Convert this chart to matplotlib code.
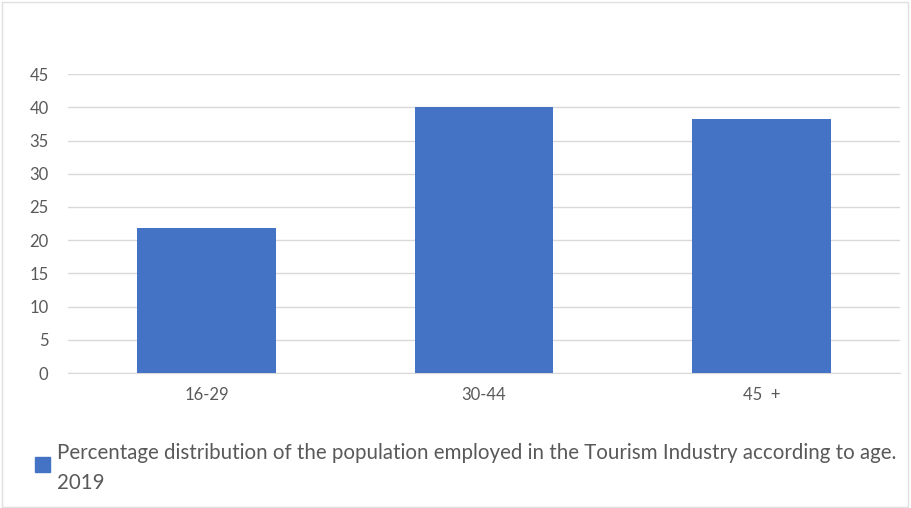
import matplotlib.pyplot as plt
from matplotlib.patches import Rectangle

plt.rcParams['font.family'] = ['Lato', 'DejaVu Sans']

ages = ['16-29', '30-44', '45  +']
values = [21.9, 40.0, 38.2]
yticks = [0, 5, 10, 15, 20, 25, 30, 35, 40, 45]
label = 'Percentage distribution of the population employed in the Tourism Industry according to age.\n2019'

bar_color = '#4472C4'
text_color = '#595959'

fig = plt.figure(figsize=(9.11, 5.08), dpi=100)
ax = fig.add_axes([0.0746, 0.2657, 0.9134, 0.5883])

ax.bar(range(len(ages)), values, width=0.5, color=bar_color, zorder=3)
ax.set_xlim(-0.5, len(ages) - 0.5)
ax.set_ylim(0, 45)
ax.set_yticks(yticks)
ax.set_xticks(range(len(ages)))
ax.set_xticklabels(ages)
ax.grid(axis='y', color='#D9D9D9', linewidth=1, zorder=0)
for s in ['top', 'right', 'left']:
    ax.spines[s].set_visible(False)
ax.spines['bottom'].set_color('#D9D9D9')
ax.tick_params(axis='both', length=0, colors=text_color, labelsize=12)
ax.tick_params(axis='x', pad=10)
ax.tick_params(axis='y', pad=14)

# legend drawn by hand so the text can wrap like the original
fig.patches.append(Rectangle((35 / 911, 1 - 472 / 508), 15 / 911, 15 / 508,
                             transform=fig.transFigure, color=bar_color))
fig.text(57 / 911, 1 - 443 / 508, label, ha='left', va='top', color=text_color,
         fontsize=14.8, linespacing=1.6)

# thin outer frame
fig.patches.append(Rectangle((0.002, 0.002), 0.995, 0.995, transform=fig.transFigure,
                             fill=False, edgecolor='#E0E0E0', linewidth=1))

fig.savefig('out.png', dpi=100)
